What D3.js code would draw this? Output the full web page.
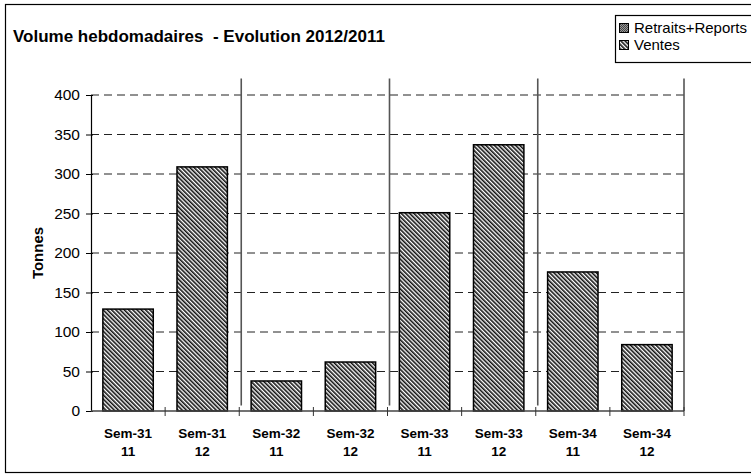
<!DOCTYPE html>
<html>
<head>
<meta charset="utf-8">
<script src="https://cdn.jsdelivr.net/npm/d3@7"></script>
<style>
  body { margin: 0; background: #fff; }
  svg { display: block; font-family: "Liberation Sans", Arial, sans-serif; }
</style>
</head>
<body>
<div id="chart"></div>
<script>
// chart data
const weeks = ["Sem-31", "Sem-31", "Sem-32", "Sem-32", "Sem-33", "Sem-33", "Sem-34", "Sem-34"];
const years = ["11", "12", "11", "12", "11", "12", "11", "12"];
const ventes = [129, 309, 38, 62, 251, 337, 176, 84];
const retraits = [0, 0, 0, 0, 0, 0, 0, 0];
const seriesNames = ["Retraits+Reports", "Ventes"];
const yTicks = [0, 50, 100, 150, 200, 250, 300, 350, 400];

const width = 751, height = 475;
const margin = { top: 95, right: 67, bottom: 64, left: 91 };

const svg = d3.select("#chart").append("svg")
  .attr("width", width)
  .attr("height", height);

// patterns
const defs = svg.append("defs");
const stripe = defs.append("pattern")
  .attr("id", "stripes")
  .attr("patternUnits", "userSpaceOnUse")
  .attr("width", 3)
  .attr("height", 3)
  .attr("patternTransform", "rotate(-45)");
stripe.append("rect").attr("width", 3).attr("height", 3).attr("fill", "#fff");
stripe.append("rect").attr("width", 1.6).attr("height", 3).attr("fill", "#111");

const dots = defs.append("pattern")
  .attr("id", "dots")
  .attr("patternUnits", "userSpaceOnUse")
  .attr("width", 2)
  .attr("height", 2);
dots.append("rect").attr("width", 2).attr("height", 2).attr("fill", "#999");
dots.append("rect").attr("width", 1).attr("height", 1).attr("fill", "#444");
dots.append("rect").attr("x", 1).attr("y", 1).attr("width", 1).attr("height", 1).attr("fill", "#444");

// outer frame
svg.append("rect")
  .attr("x", 5.5).attr("y", 4.5)
  .attr("width", 800).attr("height", 468)
  .attr("fill", "none")
  .attr("stroke", "#000")
  .attr("stroke-width", 1.2);

// title
svg.append("text")
  .attr("x", 13).attr("y", 42)
  .attr("font-size", "17px")
  .attr("font-weight", "bold")
  .style("white-space", "pre")
  .text("Volume hebdomadaires  - Evolution 2012/2011");

const x = d3.scaleBand()
  .domain(d3.range(weeks.length))
  .range([margin.left, width - margin.right])
  .paddingInner(0.32)
  .paddingOuter(0.16);

const y = d3.scaleLinear()
  .domain([0, 400])
  .range([height - margin.bottom, margin.top]);

const x0 = margin.left, x1 = width - margin.right;

// dashed gridlines
svg.append("g")
  .selectAll("line")
  .data(yTicks.filter(d => d > 0))
  .join("line")
  .attr("x1", x0).attr("x2", x1)
  .attr("y1", d => y(d)).attr("y2", d => y(d))
  .attr("stroke", "#222")
  .attr("stroke-width", 1)
  .attr("stroke-dasharray", "8,5");

// week separators (every 2 categories)
const step = x.step();
const seps = d3.range(2, weeks.length + 1, 2);
svg.append("g")
  .selectAll("line")
  .data(seps)
  .join("line")
  .attr("x1", d => x0 + d * step + (d === weeks.length ? 0 : 2))
  .attr("x2", d => x0 + d * step + (d === weeks.length ? 0 : 2))
  .attr("y1", y(421))
  .attr("y2", d => d === weeks.length ? y(0) : y(7))
  .attr("stroke", "#555")
  .attr("stroke-width", 1.6);

// stacked bars
const stacked = d3.stack().keys([0, 1])(weeks.map((w, i) => ({ 0: retraits[i], 1: ventes[i] })));
const fills = ["url(#dots)", "url(#stripes)"];
stacked.forEach((layer, k) => {
  svg.append("g")
    .selectAll("rect")
    .data(layer)
    .join("rect")
    .attr("x", (d, i) => x(i))
    .attr("y", d => y(d[1]))
    .attr("width", x.bandwidth())
    .attr("height", d => y(d[0]) - y(d[1]))
    .attr("fill", fills[k])
    .attr("stroke", "#000")
    .attr("stroke-width", 1.5);
});

// y axis
const yAxis = svg.append("g")
  .attr("transform", `translate(${x0},0)`)
  .call(d3.axisLeft(y).tickValues(yTicks).tickSize(5).tickSizeOuter(0).tickPadding(6));
yAxis.select(".domain").attr("stroke", "#000").attr("stroke-width", 1.2);
yAxis.selectAll(".tick line").attr("stroke", "#000").attr("x2", -5).attr("x1", 2);
yAxis.selectAll(".tick text")
  .attr("font-size", "15.5px")
  .attr("font-family", "Liberation Sans, Arial, sans-serif")
  .attr("fill", "#000");

// x axis line and ticks at category boundaries
svg.append("line")
  .attr("x1", x0).attr("x2", x1)
  .attr("y1", y(0)).attr("y2", y(0))
  .attr("stroke", "#444")
  .attr("stroke-width", 1.4);
svg.append("g")
  .selectAll("line")
  .data(d3.range(1, weeks.length + 1))
  .join("line")
  .attr("x1", d => x0 + d * step).attr("x2", d => x0 + d * step)
  .attr("y1", y(0) - 4).attr("y2", y(0) + 5)
  .attr("stroke", "#333")
  .attr("stroke-width", 1);

// x labels
const xl = svg.append("g")
  .selectAll("text")
  .data(weeks)
  .join("text")
  .attr("text-anchor", "middle")
  .attr("font-size", "13.5px")
  .attr("font-weight", "bold")
  .attr("x", (d, i) => x(i) + x.bandwidth() / 2);
xl.append("tspan").attr("y", 438).text(d => d);
xl.append("tspan")
  .attr("x", (d, i) => x(i) + x.bandwidth() / 2)
  .attr("y", 456)
  .text((d, i) => years[i]);

// y title
svg.append("text")
  .attr("transform", `translate(43,${(y(0) + y(400)) / 2}) rotate(-90)`)
  .attr("text-anchor", "middle")
  .attr("font-size", "15px")
  .attr("font-weight", "bold")
  .text("Tonnes");

// legend
const lg = svg.append("g").attr("transform", "translate(615,15)");
lg.append("rect")
  .attr("x", 0.5).attr("y", 0.5)
  .attr("width", 200).attr("height", 47)
  .attr("fill", "#fff")
  .attr("stroke", "#000")
  .attr("stroke-width", 1.2);
seriesNames.forEach((name, k) => {
  lg.append("rect")
    .attr("x", 4.5).attr("y", 8.5 + k * 17)
    .attr("width", 9).attr("height", 9)
    .attr("fill", fills[k])
    .attr("stroke", "#000")
    .attr("stroke-width", 1);
  lg.append("text")
    .attr("x", 19).attr("y", 18 + k * 17)
    .attr("font-size", "15px")
    .text(name);
});
</script>
</body>
</html>
